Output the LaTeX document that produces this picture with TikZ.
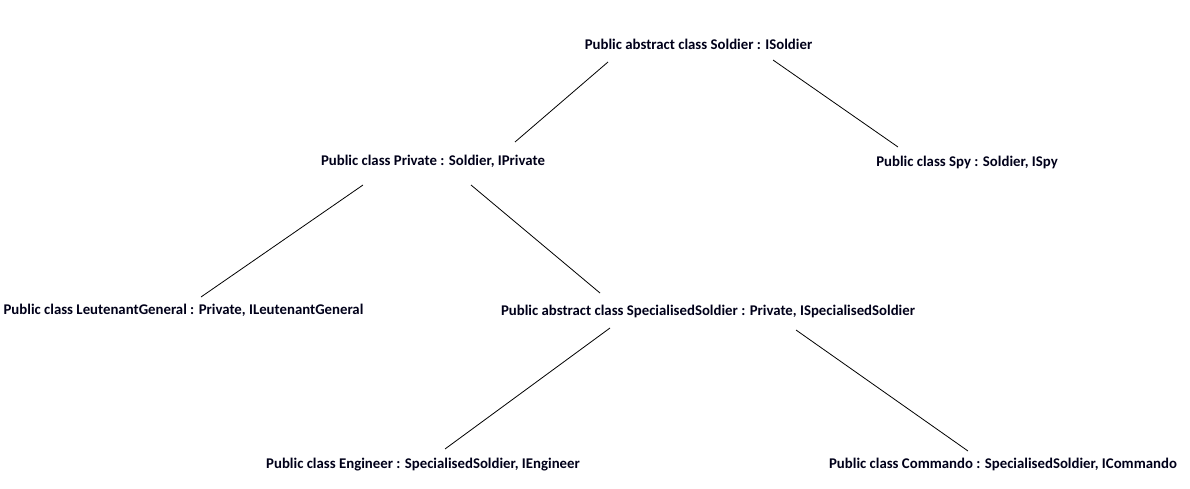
\documentclass[tikz,border=0pt]{standalone}
\usepackage{fontspec}
\setmainfont{Carlito}
\begin{document}
\begin{tikzpicture}[x=0.75pt,y=-0.75pt,
  cls/.style={font=\fontsize{11.1}{13}\selectfont\bfseries, inner sep=0pt, text=black!90!blue},
  link/.style={draw=black, line width=0.6pt}]
\useasboundingbox (0,0) rectangle (1190,489);
\node[cls] (soldier) at (698.5,44) {Public abstract class Soldier : ISoldier};
\node[cls] (private) at (433,161) {Public class Private : Soldier, IPrivate};
\node[cls] (spy) at (967,162) {Public class Spy : Soldier, ISpy};
\node[cls] (lg) at (183.5,310) {Public class LeutenantGeneral : Private, ILeutenantGeneral};
\node[cls] (ss) at (708,311) {Public abstract class SpecialisedSoldier : Private, ISpecialisedSoldier};
\node[cls] (eng) at (423,465) {Public class Engineer : SpecialisedSoldier, IEngineer};
\node[cls] (com) at (1003,464) {Public class Commando : SpecialisedSoldier, ICommando};
\coordinate (s1) at (608,62); \coordinate (p1) at (515,142);
\coordinate (s2) at (773,60); \coordinate (y1) at (898,147);
\coordinate (p2) at (363,185); \coordinate (l1) at (201,297);
\coordinate (p3) at (471,185); \coordinate (q1) at (600,293);
\coordinate (q2) at (610,328); \coordinate (e1) at (445,449);
\coordinate (q3) at (796,330); \coordinate (c1) at (968,451);
\draw[link] (s1) -- (p1);
\draw[link] (s2) -- (y1);
\draw[link] (p2) -- (l1);
\draw[link] (p3) -- (q1);
\draw[link] (q2) -- (e1);
\draw[link] (q3) -- (c1);
\end{tikzpicture}
\end{document}
